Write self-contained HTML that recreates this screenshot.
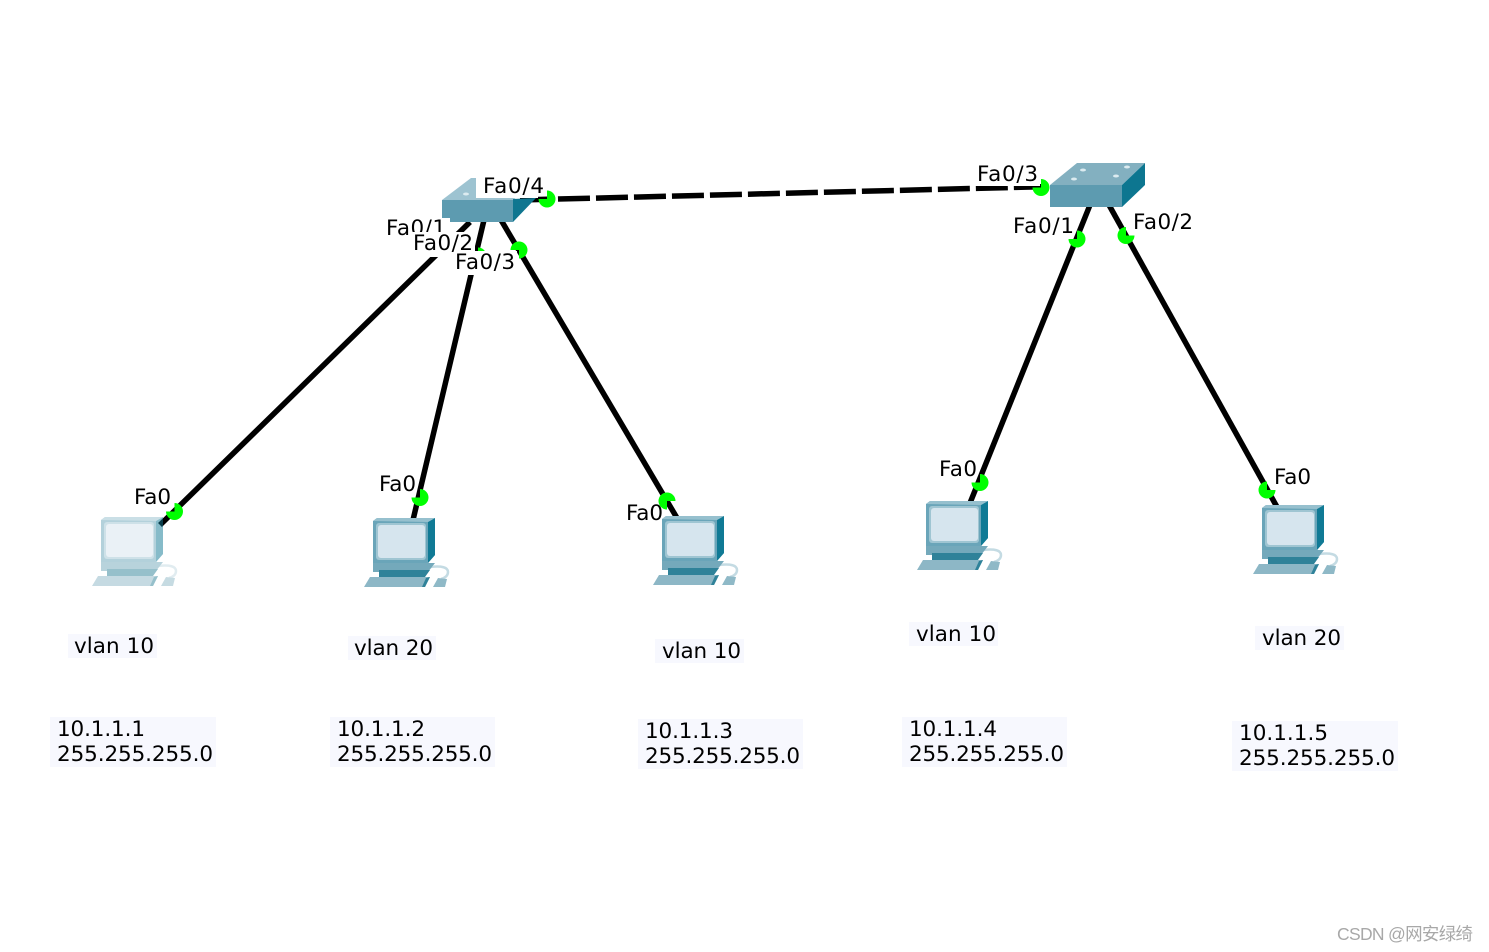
<!DOCTYPE html>
<html><head><meta charset="utf-8"><style>
html,body{margin:0;padding:0;background:#fff}
svg{display:block}
text{font-family:"DejaVu Sans",sans-serif;font-size:21.5px;fill:#000}
.w{font-family:"Liberation Sans","Noto Sans CJK SC",sans-serif;font-size:17.5px;fill:#a8a8a8}
</style></head><body>
<svg width="1489" height="952" viewBox="0 0 1489 952" xmlns="http://www.w3.org/2000/svg">
<defs>
<g id="pc">
  <path d="M66 49 Q84 47 84 54 Q84 59 77 61" fill="none" stroke="#c4dbe3" stroke-width="2.500"/>
  <path d="M69 69 L74 60 L83 61 L81 69 Z" fill="#8fb9c7"/>
  <path d="M6 59 H66 L61 69 H0 Z" fill="#8db7c6"/>
  <path d="M58 69 L62 60 L66 59 L61 69 Z" fill="#2f8299"/>
  <path d="M9 45 H71 L64 54 H9 Z" fill="#74a9bb"/>
  <path d="M15 52 H66 L61 59 H15 Z" fill="#2f8299"/>
  <path d="M9 3 L13 0 H71 V37 L64 45 H9 Z" fill="#6aa5b9"/>
  <path d="M64 4 L71 0 V37 L64 45 Z" fill="#107a95"/>
  <path d="M9 3 L13 0 H71 L64 4 Z" fill="#96c0ce"/>
  <rect x="12" y="5" width="50" height="37" rx="3" fill="#9fc5d2"/>
  <rect x="14" y="7" width="47" height="33" rx="3" fill="#d6e5ee"/>
</g>
<path id="d" d="M0 -8.500 A8.500 8.500 0 1 1 -8.500 0 L0 0 Z" fill="#00ff00"/>
</defs>

<g stroke="#000" stroke-width="5.500" fill="none">
  <line x1="470" y1="222" x2="160" y2="525"/>
  <line x1="484" y1="220" x2="413" y2="520"/>
  <line x1="501" y1="220" x2="677" y2="518"/>
  <line x1="1090" y1="205" x2="970" y2="503"/>
  <line x1="1109" y1="205" x2="1277" y2="507"/>
  <line x1="520" y1="200" x2="1050" y2="186.500" stroke-dasharray="32 6"/>
</g>

<path d="M442 200 L471 178 H540 L513 200 Z" fill="#9dc3d1"/>
<ellipse cx="466" cy="194" rx="3" ry="1.500" fill="#dcebf0"/>
<path d="M513 199 L536 198 L513 222 Z" fill="#0f7690"/>
<path d="M442 200 H513 V222 H450 V218 H442 Z" fill="#5d9bb0"/>

<path d="M1050 185 L1077 163 H1145 L1122 185 Z" fill="#83b0c0"/>
<path d="M1122 185 L1145 163 V185 L1122 207 Z" fill="#0d7690"/>
<rect x="1050" y="185" width="72" height="22" fill="#5d9bb0"/>
<g fill="#dcebf0">
  <ellipse cx="1083" cy="170" rx="3" ry="1.500"/><ellipse cx="1127" cy="167" rx="3" ry="1.500"/>
  <ellipse cx="1074" cy="179" rx="3" ry="1.500"/><ellipse cx="1116" cy="176" rx="3" ry="1.500"/>
</g>

<use href="#pc" x="92" y="517" opacity="0.5"/>
<use href="#pc" x="364" y="518"/>
<use href="#pc" x="653" y="516"/>
<use href="#pc" x="917" y="501"/>
<use href="#pc" x="1253" y="505"/>

<use href="#d" transform="translate(547 199)"/>
<use href="#d" transform="translate(478 256)"/>
<use href="#d" transform="translate(519 250) rotate(-90)"/>
<use href="#d" transform="translate(174.500 511.500)"/>
<use href="#d" transform="translate(420 497.500)"/>
<use href="#d" transform="translate(667 501) rotate(180)"/>
<use href="#d" transform="translate(980 482.500)"/>
<use href="#d" transform="translate(1267 490) rotate(90)"/>
<use href="#d" transform="translate(1041 187.500)"/>
<use href="#d" transform="translate(1077 239)"/>
<use href="#d" transform="translate(1126 235.500) rotate(90)"/>

<text x="386" y="235" textLength="60" lengthAdjust="spacing">Fa0/1</text>
<rect x="412" y="232" width="63" height="25" fill="#fff"/>
<text x="413" y="250" textLength="60" lengthAdjust="spacing">Fa0/2</text>
<rect x="454" y="251" width="63" height="24" fill="#fff"/>
<text x="455" y="269" textLength="60" lengthAdjust="spacing">Fa0/3</text>
<path d="M476 173 H538 V189 H546 V192 H538 V198 H476 Z" fill="#fff"/>
<text x="483" y="193" textLength="61" lengthAdjust="spacing">Fa0/4</text>

<rect x="975" y="163" width="65" height="23" fill="#fff"/>
<text x="977" y="181" textLength="61" lengthAdjust="spacing">Fa0/3</text>
<text x="1013" y="233" textLength="61" lengthAdjust="spacing">Fa0/1</text>
<text x="1133" y="229" textLength="60" lengthAdjust="spacing">Fa0/2</text>

<text x="134" y="504" textLength="37" lengthAdjust="spacing">Fa0</text>
<text x="379" y="491" textLength="37" lengthAdjust="spacing">Fa0</text>
<text x="626" y="520" textLength="37" lengthAdjust="spacing">Fa0</text>
<text x="939" y="476" textLength="38" lengthAdjust="spacing">Fa0</text>
<text x="1274" y="484" textLength="37" lengthAdjust="spacing">Fa0</text>

<g fill="#f7f8fe">
  <rect x="68" y="634" width="89" height="24"/>
  <rect x="348" y="636" width="88" height="24"/>
  <rect x="655" y="639" width="89" height="24"/>
  <rect x="909" y="622" width="89" height="24"/>
  <rect x="1255" y="626" width="89" height="24"/>
  <rect x="50" y="717" width="166" height="50"/>
  <rect x="330" y="717" width="165" height="50"/>
  <rect x="638" y="719" width="165" height="50"/>
  <rect x="902" y="717" width="165" height="50"/>
  <rect x="1232" y="721" width="166" height="50"/>
</g>
<text x="74" y="653" textLength="80" lengthAdjust="spacing">vlan 10</text>
<text x="354" y="655" textLength="79" lengthAdjust="spacing">vlan 20</text>
<text x="662" y="658" textLength="79" lengthAdjust="spacing">vlan 10</text>
<text x="916" y="641" textLength="80" lengthAdjust="spacing">vlan 10</text>
<text x="1262" y="645" textLength="79" lengthAdjust="spacing">vlan 20</text>

<text x="57" y="736" textLength="88" lengthAdjust="spacing">10.1.1.1</text>
<text x="57" y="761" textLength="156" lengthAdjust="spacing">255.255.255.0</text>
<text x="337" y="736" textLength="88" lengthAdjust="spacing">10.1.1.2</text>
<text x="337" y="761" textLength="155" lengthAdjust="spacing">255.255.255.0</text>
<text x="645" y="738" textLength="88" lengthAdjust="spacing">10.1.1.3</text>
<text x="645" y="763" textLength="155" lengthAdjust="spacing">255.255.255.0</text>
<text x="909" y="736" textLength="88" lengthAdjust="spacing">10.1.1.4</text>
<text x="909" y="761" textLength="155" lengthAdjust="spacing">255.255.255.0</text>
<text x="1239" y="740" textLength="89" lengthAdjust="spacing">10.1.1.5</text>
<text x="1239" y="765" textLength="156" lengthAdjust="spacing">255.255.255.0</text>

<text class="w" x="1337" y="940" textLength="136" lengthAdjust="spacing">CSDN @网安绿绮</text>
</svg>
</body></html>
